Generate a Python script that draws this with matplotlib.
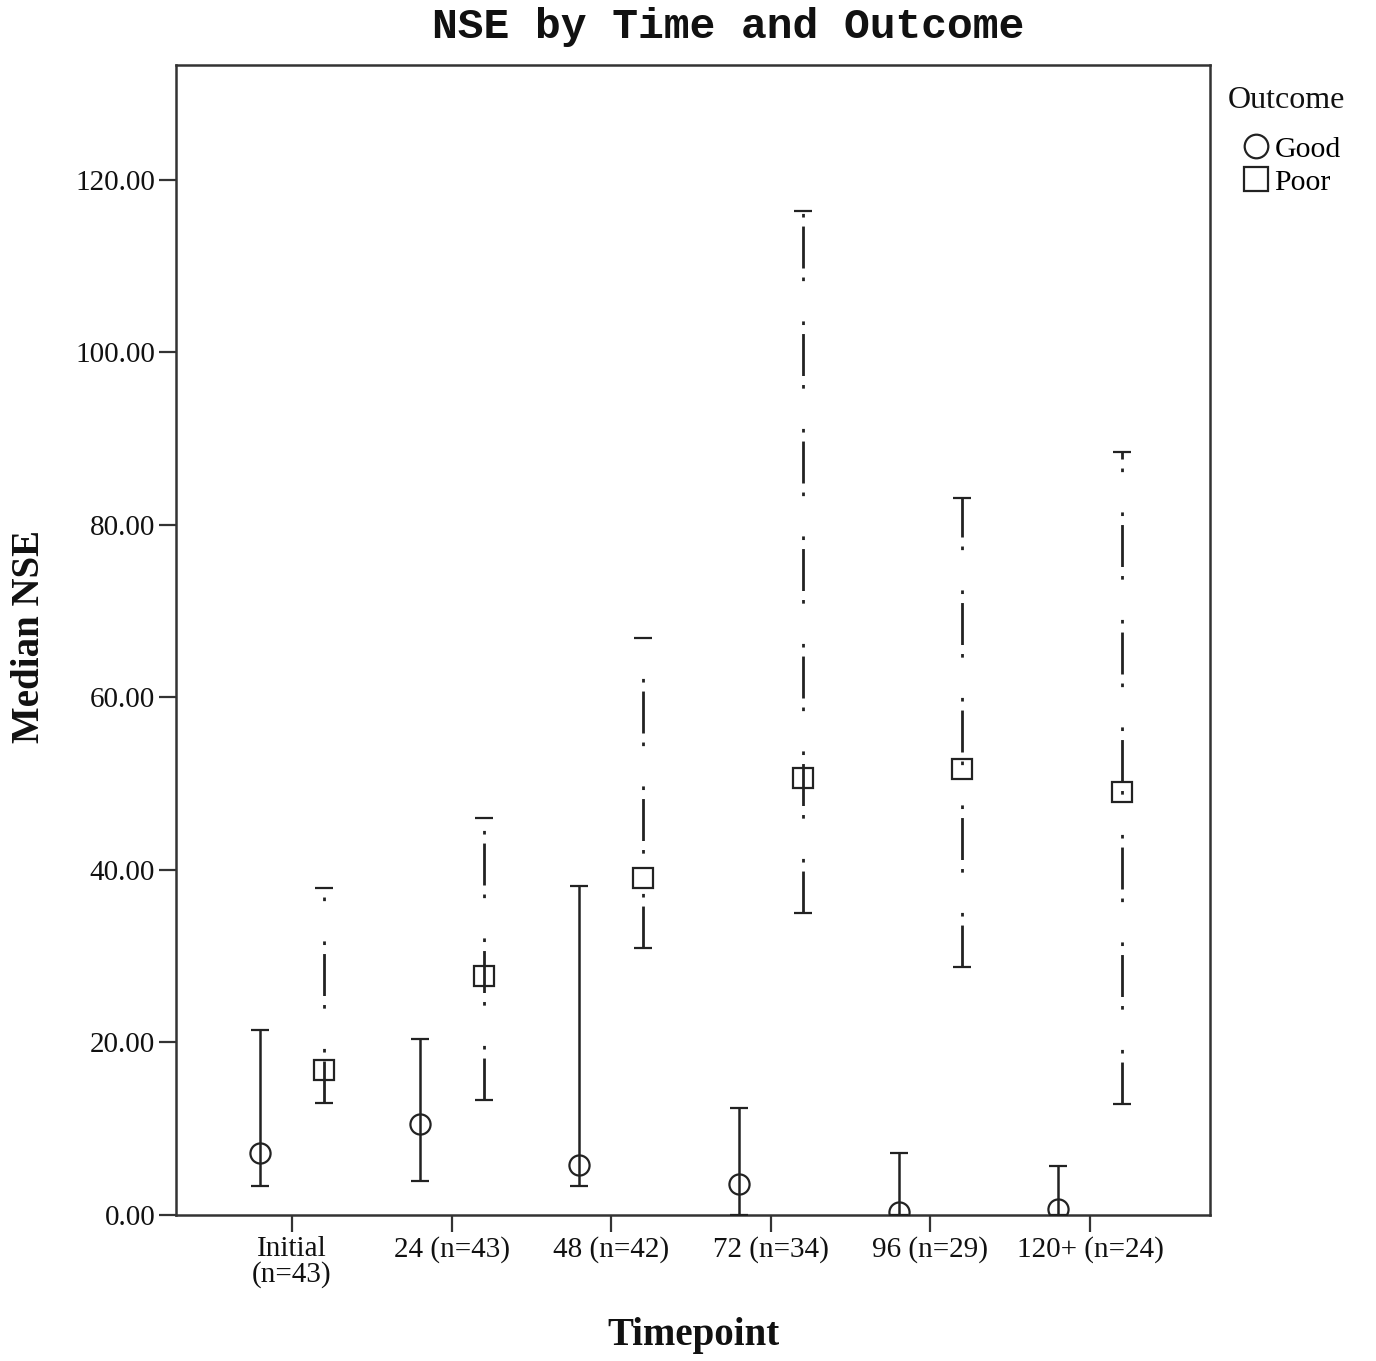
import matplotlib
matplotlib.use("Agg")
import matplotlib.pyplot as plt
from matplotlib.lines import Line2D

# Data: median NSE with lower/upper bounds by timepoint and outcome
timepoints = ["Initial\n(n=43)", "24 (n=43)", "48 (n=42)", "72 (n=34)", "96 (n=29)", "120+ (n=24)"]
good_median = [7.2, 10.5, 5.8, 3.6, 0.3, 0.7]
good_low = [3.4, 3.9, 3.4, 0.0, 0.0, 0.0]
good_high = [21.4, 20.4, 38.1, 12.4, 7.2, 5.7]
poor_median = [16.8, 27.7, 39.1, 50.7, 51.7, 49.0]
poor_low = [13.0, 13.3, 31.0, 35.0, 28.8, 12.9]
poor_high = [37.9, 46.0, 66.9, 116.4, 83.1, 88.5]
y_ticks = [0, 20, 40, 60, 80, 100, 120]

plt.rcParams["lines.scale_dashes"] = False
serif = "Liberation Serif"
ink = "#222222"

fig = plt.figure(figsize=(13.76, 13.61), dpi=100)
ax = fig.add_axes([0.1279, 0.1073, 0.7515, 0.8449])

xs = list(range(len(timepoints)))
offset = 0.2

def bounds(med, lo, hi):
    return [[m - l for m, l in zip(med, lo)], [h - m for m, h in zip(med, hi)]]

good = ax.errorbar([x - offset for x in xs], good_median, yerr=bounds(good_median, good_low, good_high),
                   fmt="o", ms=14.5, mfc="none", mec=ink, mew=1.6, ecolor=ink, elinewidth=1.8,
                   capsize=6.2, capthick=2.2, zorder=3)
poor = ax.errorbar([x + offset for x in xs], poor_median, yerr=bounds(poor_median, poor_low, poor_high),
                   fmt="s", ms=14.5, mfc="none", mec=ink, mew=1.6, ecolor=ink, elinewidth=2.0,
                   capsize=6.2, capthick=2.2, zorder=3)
# dash-dot-dot pattern for the Poor outcome ranges
for col in poor[2]:
    col.set_linestyle((0, (30.2, 6.5, 2.6, 29.0, 2.6, 6.5)))
    col.set_capstyle("butt")

ax.set_xlim(-0.727, 5.752)
ax.set_ylim(0, 133.3)
ax.set_xticks(xs)
ax.set_xticklabels(timepoints, fontfamily=serif, fontsize=21, linespacing=0.95)
ax.set_yticks(y_ticks)
ax.set_yticklabels([f"{v:.2f}" for v in y_ticks], fontfamily=serif, fontsize=21)
ax.tick_params(axis="both", length=12, width=1.6, color="#333333", labelcolor="#111111")
ax.tick_params(axis="y", pad=3)
ax.tick_params(axis="x", pad=3)
for s in ax.spines.values():
    s.set_linewidth(1.8)
    s.set_color("#333333")

fig.text(728 / 1376, 1 - 27 / 1361, "NSE by Time and Outcome", family="Liberation Mono",
         weight="bold", fontsize=31, ha="center", va="center", color="#111111")
fig.text(30 / 1376, 1 - 637 / 1361, "Median NSE", family=serif, weight="bold", fontsize=28,
         rotation=90, ha="center", va="center", color="#111111")
fig.text(693 / 1376, 1 - 1335 / 1361, "Timepoint", family=serif, weight="bold", fontsize=28,
         ha="center", va="center", color="#111111")

# legend
fig.text(1228 / 1376, 1 - 100 / 1361, "Outcome", family=serif, fontsize=23,
         ha="left", va="center", color="#111111")
handles = [Line2D([], [], ls="none", marker="o", ms=17, mfc="none", mec=ink, mew=1.6),
           Line2D([], [], ls="none", marker="s", ms=17, mfc="none", mec=ink, mew=1.6)]
leg = fig.legend(handles, ["Good", "Poor"], loc="upper left",
                 bbox_to_anchor=(1243 / 1376, 1 - 136 / 1361), frameon=False,
                 prop={"family": serif, "size": 21.5}, handlelength=0.9, handletextpad=0.15,
                 labelspacing=0.2, borderpad=0, borderaxespad=0)

fig.savefig("out.png", dpi=100)
